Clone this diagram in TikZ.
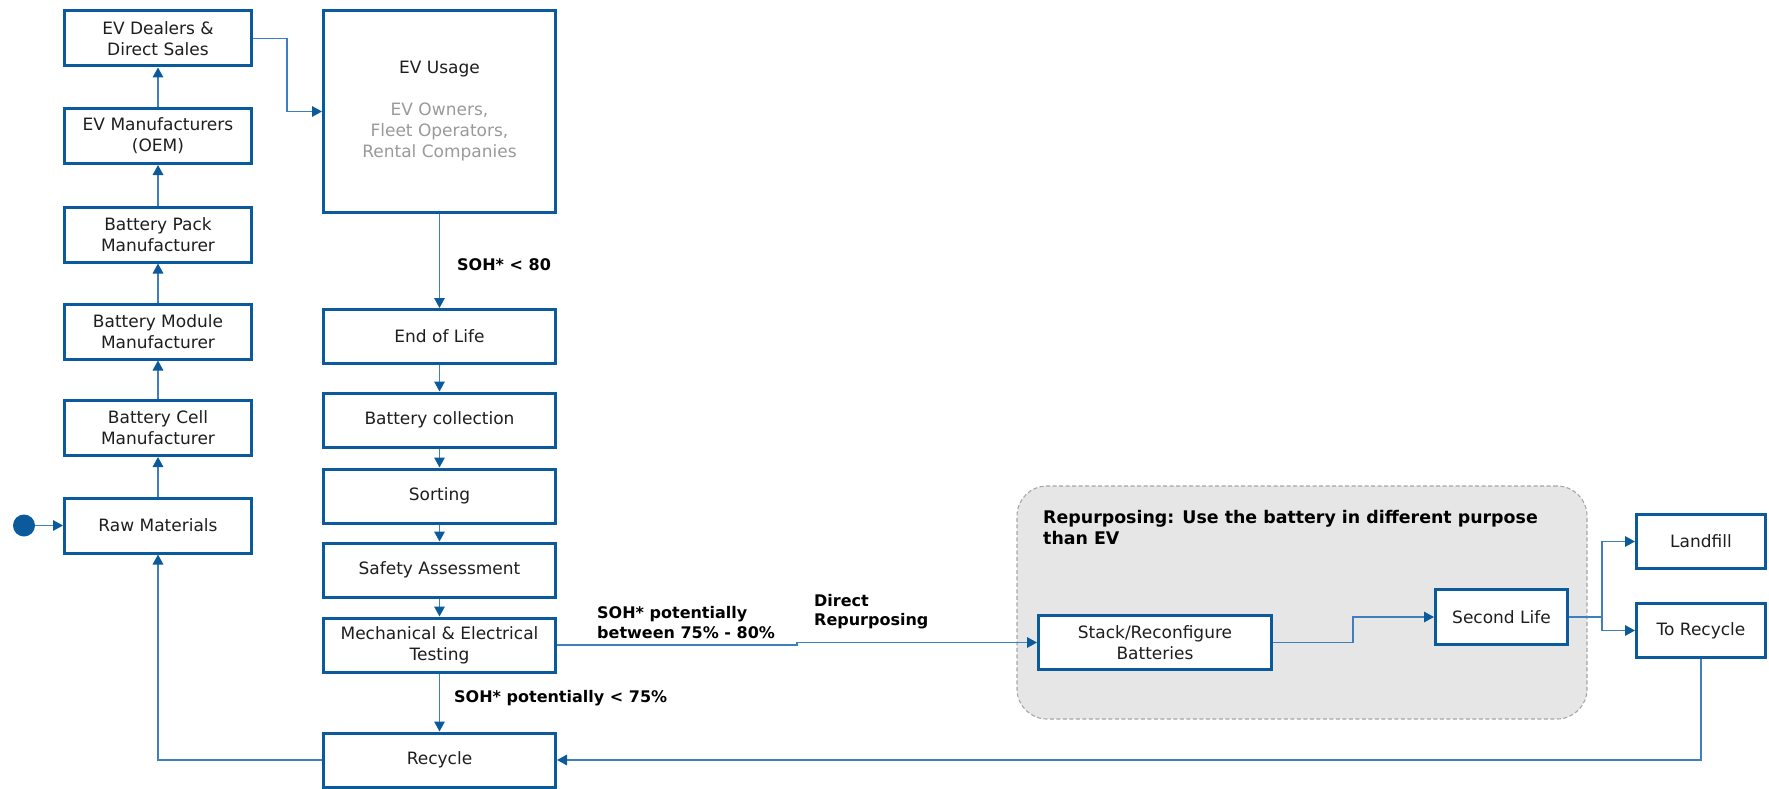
\documentclass[tikz,border=0pt]{standalone}
\usepackage{fontspec}
\setmainfont{DejaVu Sans}
\usetikzlibrary{arrows.meta}

\definecolor{boxblue}{HTML}{0B5A9C}
\definecolor{lineblue}{HTML}{3F7FBF}
\definecolor{textdark}{HTML}{1E1E1E}
\definecolor{graytext}{HTML}{9A9A9A}
\definecolor{groupfill}{HTML}{E6E6E6}
\definecolor{groupline}{HTML}{A6A6A6}

\begin{document}
\begin{tikzpicture}[x=1pt, y=-1pt,
  stagebox/.style={draw=boxblue, line width=3pt, fill=white, align=center,
    inner sep=2pt, text=textdark, font=\fontsize{17}{21}\selectfont},
  leftbox/.style={stagebox, minimum width=187pt, minimum height=55pt},
  midbox/.style={stagebox, minimum width=232pt, minimum height=54pt},
  sidebox/.style={stagebox, minimum width=129pt, minimum height=54pt},
  groupbox/.style={draw=groupline, fill=groupfill, line width=1.1pt,
    dash pattern=on 4pt off 2.5pt, rounded corners=30pt,
    minimum width=570pt, minimum height=233pt, inner sep=0pt},
  flow/.style={draw=lineblue, line width=1.6pt,
    -{Triangle[length=10pt, width=10.5pt, color=boxblue]}},
  link/.style={draw=lineblue, line width=1.6pt},
  soh/.style={font=\bfseries\fontsize{16}{19.5}\selectfont, text=black,
    align=left, inner sep=0pt, anchor=west}
]
\useasboundingbox (0,0) rectangle (1769,789);

% repurposing group (drawn first so the boxes sit on top)
\node[groupbox] (repurp) at (1302,602.5) {};
\node[soh, font=\bfseries\fontsize{17.4}{21}\selectfont] (grouptitle) at (1043,527.5)
  {Repurposing: Use the battery in different purpose\\than EV};

% supply chain column
\node[leftbox] (dealers) at (158,38.5) {EV Dealers \&\\Direct Sales};
\node[leftbox] (oem)     at (158,136)  {EV Manufacturers\\(OEM)};
\node[leftbox] (pack)    at (158,234.5) {Battery Pack\\Manufacturer};
\node[leftbox] (module)  at (158,331.5) {Battery Module\\Manufacturer};
\node[leftbox] (cell)    at (158,428)  {Battery Cell\\Manufacturer};
\node[leftbox] (raw)     at (158,525.5) {Raw Materials};
\node[circle, fill=boxblue, minimum size=22pt, inner sep=0pt] (start) at (24,525.5) {};

% usage and end-of-life column
\node[midbox, minimum height=202pt] (usage) at (439.5,111.5)
  {EV Usage\\[21pt]\textcolor{graytext}{EV Owners,}\\
   \textcolor{graytext}{Fleet Operators,}\\\textcolor{graytext}{Rental Companies}};
\node[midbox] (eol)     at (439.5,336.5) {End of Life};
\node[midbox] (collect) at (439.5,420)   {Battery collection};
\node[midbox] (sorting) at (439.5,496)   {Sorting};
\node[midbox] (safety)  at (439.5,570)   {Safety Assessment};
\node[midbox] (testing) at (439.5,645)   {Mechanical \& Electrical\\Testing};
\node[midbox] (recycle) at (439.5,760)   {Recycle};

% second-life branch
\node[stagebox, minimum width=233pt, minimum height=54pt] (stack) at (1155,642.5)
  {Stack/Reconfigure\\Batteries};
\node[stagebox, minimum width=132pt, minimum height=55pt] (second) at (1501.5,617) {Second Life};
\node[sidebox] (landfill)  at (1701,541.5) {Landfill};
\node[sidebox] (torecycle) at (1701,630.5) {To Recycle};

% labels
\node[soh] (lab80)   at (457,265)   {SOH* < 80};
\node[soh] (lab7580) at (597,622.5) {SOH* potentially\\between 75\% - 80\%};
\node[soh] (labdir)  at (814,611.5) {Direct\\Repurposing};
\node[soh] (lab75)   at (454,698)   {SOH* potentially < 75\%};

% bend points
\coordinate (dj)    at (287,38.5);
\coordinate (jog)   at (797,645);
\coordinate (sj)    at (1353,642.5);
\coordinate (split) at (1602,617);

% connectors
\draw[flow] (start) -- (raw);
\draw[flow] (raw) -- (cell);
\draw[flow] (cell) -- (module);
\draw[flow] (module) -- (pack);
\draw[flow] (pack) -- (oem);
\draw[flow] (oem) -- (dealers);
\draw[flow] (dealers.east) -- (dj) |- (usage.west);
\draw[flow] (usage) -- (eol);
\draw[flow] (eol) -- (collect);
\draw[flow] (collect) -- (sorting);
\draw[flow] (sorting) -- (safety);
\draw[flow] (safety) -- (testing);
\draw[flow] (testing) -- (recycle);
\draw[flow] (testing.east) -- (jog) |- (stack.west);
\draw[flow] (stack.east) -- (sj) |- (second.west);
\draw[link] (second.east) -- (split);
\draw[flow] (split) |- (landfill.west);
\draw[flow] (split) |- (torecycle.west);
\draw[flow] (torecycle.south) |- (recycle.east);
\draw[flow] (recycle.west) -| (raw.south);
\end{tikzpicture}
\end{document}
